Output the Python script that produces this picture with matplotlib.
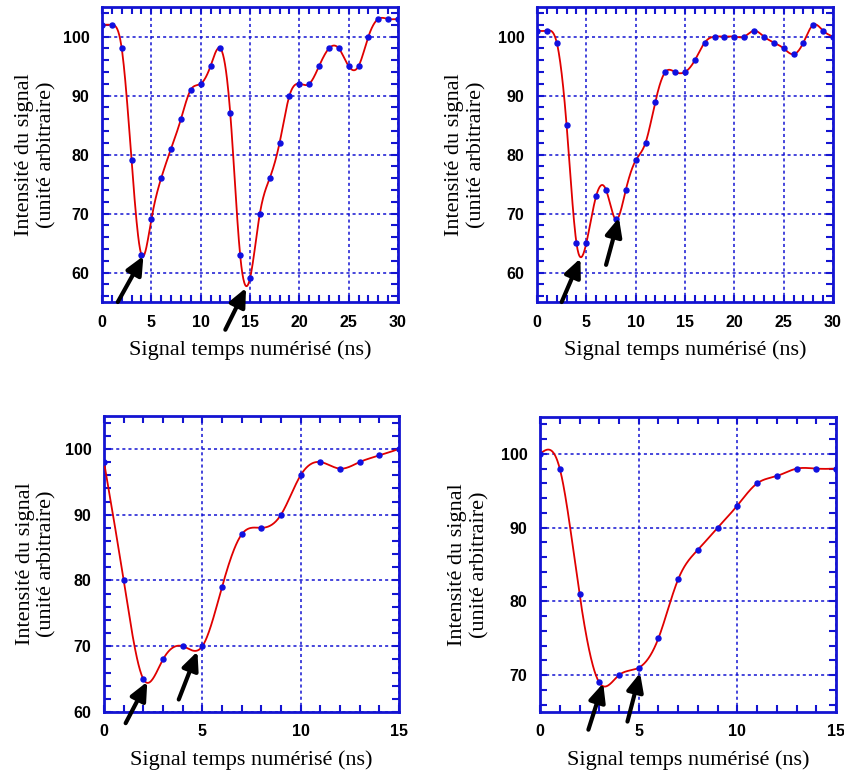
import numpy as np
import matplotlib
matplotlib.use("Agg")
import matplotlib.pyplot as plt
from matplotlib.ticker import MultipleLocator

# ---- data (x in ns, y in arbitrary units) ----
t30 = list(range(0, 31))
sig_a = [102, 102, 98, 79, 63, 69, 76, 81, 86, 91, 92, 95, 98, 87, 63, 59,
         70, 76, 82, 90, 92, 92, 95, 98, 98, 95, 95, 100, 103, 103, 103]
sig_b = [101, 101, 99, 85, 65, 65, 73, 74, 69, 74, 79, 82, 89, 94, 94, 94,
         96, 99, 100, 100, 100, 100, 101, 100, 99, 98, 97, 99, 102, 101, 100]

t15 = list(range(0, 16))
sig_c = [98, 80, 65, 68, 70, 70, 79, 87, 88, 90, 96, 98, 97, 98, 99, 100]
sig_d = [100, 98, 81, 69, 70, 71, 75, 83, 87, 90, 93, 96, 97, 98, 98, 98]

# arrows: (tail x, tail y, head x, head y)
arrows_a = [(1.6, 55.0, 4.2, 62.8), (12.5, 50.3, 14.6, 57.4)]
arrows_b = [(2.5, 55.0, 4.4, 62.4), (7.0, 61.3, 8.3, 69.3)]
arrows_c = [(1.1, 58.3, 2.2, 64.6), (3.8, 61.9, 4.75, 69.2)]
arrows_d = [(2.45, 62.6, 3.2, 68.9), (4.43, 63.7, 5.07, 70.3)]

BLUE = "#1414d2"
xlabel = "Signal temps numérisé (ns)"
ylabel = "Intensité du signal\n(unité arbitraire)"


def natural_spline(x, y, n=600):
    x = np.asarray(x, float)
    y = np.asarray(y, float)
    h = np.diff(x)
    m = len(x)
    A = np.zeros((m, m))
    b = np.zeros(m)
    A[0, 0] = A[-1, -1] = 1.0
    for i in range(1, m - 1):
        A[i, i - 1] = h[i - 1]
        A[i, i] = 2 * (h[i - 1] + h[i])
        A[i, i + 1] = h[i]
        b[i] = 6 * ((y[i + 1] - y[i]) / h[i] - (y[i] - y[i - 1]) / h[i - 1])
    M = np.linalg.solve(A, b)
    xs = np.linspace(x[0], x[-1], n)
    idx = np.clip(np.searchsorted(x, xs) - 1, 0, m - 2)
    x0, x1 = x[idx], x[idx + 1]
    hh = x1 - x0
    ys = (M[idx] * (x1 - xs) ** 3 / (6 * hh) + M[idx + 1] * (xs - x0) ** 3 / (6 * hh)
          + (y[idx] / hh - M[idx] * hh / 6) * (x1 - xs)
          + (y[idx + 1] / hh - M[idx + 1] * hh / 6) * (xs - x0))
    return xs, ys


def panel(ax, x, y, xmax, ylo, arrows):
    xs, ys = natural_spline(x, y)
    ax.plot(xs, ys, color="#e00000", lw=1.3, zorder=3)
    ax.plot(x, y, "o", color="#1010e0", ms=3.6, zorder=4)
    ax.set_xlim(0, xmax)
    ax.set_ylim(ylo, 105)
    ax.xaxis.set_major_locator(MultipleLocator(5))
    ax.xaxis.set_minor_locator(MultipleLocator(1))
    ax.yaxis.set_major_locator(MultipleLocator(10))
    ax.yaxis.set_minor_locator(MultipleLocator(2))
    ax.grid(True, which="major", color=BLUE, ls=(0, (2, 2)), lw=1.1)
    for s in ax.spines.values():
        s.set_color(BLUE)
        s.set_linewidth(2)
    ax.tick_params(which="both", direction="in", top=True, right=True,
                   color=BLUE, width=1.5)
    ax.tick_params(which="major", length=5)
    ax.tick_params(which="minor", length=5)
    ax.tick_params(axis="x", pad=9)
    ax.tick_params(axis="y", pad=9)
    for lab in ax.get_xticklabels() + ax.get_yticklabels():
        lab.set_fontfamily("Liberation Sans")
        lab.set_fontweight("bold")
        lab.set_fontsize(11.5)
    ax.set_xlabel(xlabel, family="Liberation Serif", fontsize=16)
    ax.xaxis.set_label_coords(0.5, -0.13)
    ax.set_ylabel(ylabel, family="Liberation Serif", fontsize=16,
                  linespacing=1.2, va="center")
    for tx, ty, hx, hy in arrows:
        ax.annotate("", xy=(hx, hy), xytext=(tx, ty), annotation_clip=False,
                    arrowprops=dict(arrowstyle="-|>,head_length=1.1,head_width=0.5",
                                    color="black", lw=3, shrinkA=0, shrinkB=0),
                    zorder=5)


fig = plt.figure(figsize=(8.45, 7.76), dpi=100)
ax1 = fig.add_axes([0.1207, 0.6108, 0.3503, 0.380])
ax2 = fig.add_axes([0.6355, 0.6108, 0.3503, 0.380])
ax3 = fig.add_axes([0.1231, 0.0825, 0.3491, 0.3814])
ax4 = fig.add_axes([0.6391, 0.0825, 0.3503, 0.3801])

panel(ax1, t30, sig_a, 30, 55, arrows_a)
panel(ax2, t30, sig_b, 30, 55, arrows_b)
panel(ax3, t15, sig_c, 15, 60, arrows_c)
panel(ax4, t15, sig_d, 15, 65, arrows_d)

ax1.yaxis.set_label_coords(-0.223, 0.5)
ax2.yaxis.set_label_coords(-0.24, 0.5)
ax3.yaxis.set_label_coords(-0.23, 0.5)
ax4.yaxis.set_label_coords(-0.24, 0.5)

fig.savefig("out.png", dpi=100)
